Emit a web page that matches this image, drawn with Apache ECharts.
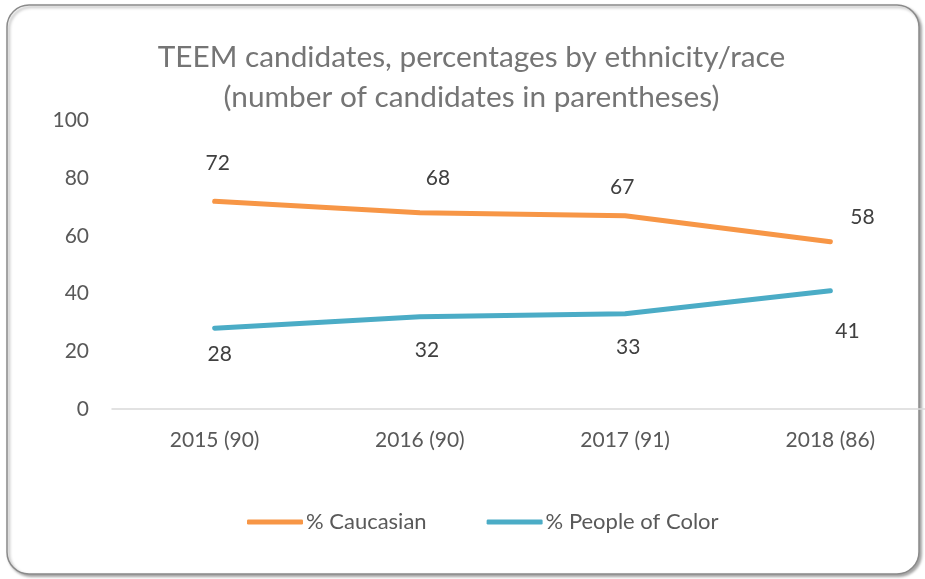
<!DOCTYPE html>
<html><head><meta charset="utf-8">
<script src="https://cdn.jsdelivr.net/npm/echarts@6/dist/echarts.min.js"></script>
<style>html,body{margin:0;padding:0;background:#fff;overflow:hidden}#c{width:943px;height:579px}</style>
</head><body><div id="c"></div>
<script>
var categories = ['2015 (90)', '2016 (90)', '2017 (91)', '2018 (86)'];
var caucasian = [72, 68, 67, 58];
var peopleOfColor = [28, 32, 33, 41];
var yTicks = [0, 20, 40, 60, 80, 100];

var caucOffsets = [[3, -38], [18, -35], [-3, -28], [32, -24]];
var pocOffsets = [[5, 26], [7, 34], [3, 33], [17, 41]];

function build(values, offsets) {
  return values.map(function (v, i) {
    return { value: v, label: { offset: offsets[i] } };
  });
}

var chart = echarts.init(document.getElementById('c'), null, { renderer: 'canvas' });
var font = 'Lato, "Open Sans", sans-serif';
chart.setOption({
  animation: false,
  graphic: [{
    type: 'rect', z: -10, silent: true,
    shape: { x: 7, y: 5, width: 912, height: 569, r: 22 },
    style: { fill: '#fff', stroke: '#8a8a8a', lineWidth: 1.5,
      shadowColor: 'rgba(0,0,0,0.35)', shadowBlur: 3, shadowOffsetX: 2, shadowOffsetY: 2 }
  }],
  title: {
    text: 'TEEM candidates, percentages by ethnicity/race\n(number of candidates in parentheses)',
    left: 'center', top: 32,
    textStyle: { fontFamily: font, fontWeight: 'normal', fontSize: 29.8, color: '#757575', lineHeight: 40 }
  },
  grid: { left: 112, right: 10, top: 120.5, bottom: 170 },
  legend: {
    bottom: 46, left: 247, padding: 0, itemGap: 60, itemWidth: 56, itemHeight: 5,
    icon: 'roundRect',
    textStyle: { fontFamily: font, fontSize: 22, color: '#595959', padding: [0, 0, 0, -2] },
    data: ['% Caucasian', '% People of Color']
  },
  xAxis: {
    type: 'category', data: categories, boundaryGap: true,
    axisLine: { lineStyle: { color: '#d9d9d9', width: 1.5 } },
    axisTick: { show: false },
    axisLabel: { fontFamily: font, fontSize: 21, color: '#595959', margin: 21 }
  },
  yAxis: {
    type: 'value', min: yTicks[0], max: yTicks[yTicks.length - 1], interval: 20,
    axisLine: { show: false }, axisTick: { show: false },
    splitLine: { show: false },
    axisLabel: { fontFamily: font, fontSize: 21, color: '#595959', margin: 23 }
  },
  series: [{
    name: '% Caucasian', type: 'line', data: build(caucasian, caucOffsets),
    symbol: 'circle', symbolSize: 1,
    lineStyle: { color: '#F79646', width: 5, cap: 'round' },
    itemStyle: { color: '#F79646' },
    label: { show: true, position: 'inside', fontFamily: font, fontSize: 21, color: '#404040' }
  }, {
    name: '% People of Color', type: 'line', data: build(peopleOfColor, pocOffsets),
    symbol: 'circle', symbolSize: 1,
    lineStyle: { color: '#4BACC6', width: 5, cap: 'round' },
    itemStyle: { color: '#4BACC6' },
    label: { show: true, position: 'inside', fontFamily: font, fontSize: 21, color: '#404040' }
  }]
});
</script></body></html>
